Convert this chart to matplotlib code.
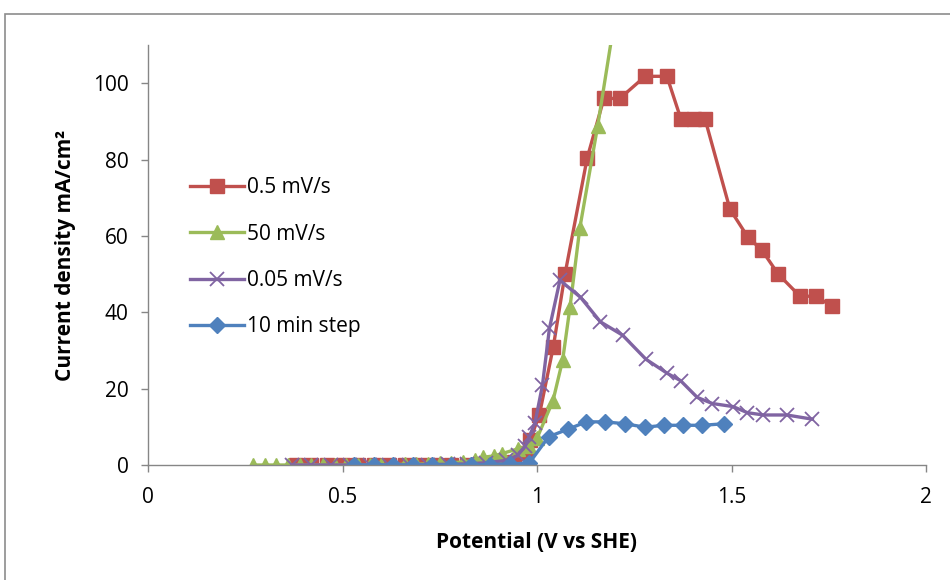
import matplotlib.pyplot as plt
from matplotlib.patches import Rectangle

plt.rcParams["font.family"] = ["Open Sans", "DejaVu Sans"]

# 0.5 mV/s sweep
v_slow = [0.38, 0.42, 0.46, 0.50, 0.54, 0.58, 0.62, 0.66, 0.70, 0.74, 0.78, 0.82,
          0.86, 0.90, 0.94, 0.973, 0.982, 1.006, 1.042, 1.072, 1.129, 1.172, 1.213,
          1.278, 1.334, 1.370, 1.404, 1.432, 1.496, 1.542, 1.578, 1.620, 1.676,
          1.717, 1.758]
i_slow = [0.0, 0.0, 0.0, 0.0, 0.0, 0.0, 0.0, 0.0, 0.0, 0.0, 0.0, 0.1,
          0.2, 0.4, 0.8, 3.1, 6.5, 13.1, 31.0, 50.0, 80.4, 96.0, 96.0,
          101.8, 101.8, 90.6, 90.6, 90.6, 67.0, 59.7, 56.3, 50.0, 44.2,
          44.2, 41.6]

# 50 mV/s sweep
v_fast = [0.27, 0.30, 0.33, 0.36, 0.39, 0.42, 0.45, 0.48, 0.51, 0.54, 0.57, 0.60,
          0.63, 0.66, 0.69, 0.72, 0.75, 0.78, 0.81, 0.84, 0.86, 0.89, 0.91, 0.95,
          0.98, 1.00, 1.041, 1.066, 1.085, 1.110, 1.156, 1.200]
i_fast = [0.0, 0.0, 0.0, 0.0, 0.0, 0.0, 0.0, 0.0, 0.0, 0.0, 0.0, 0.1,
          0.1, 0.2, 0.2, 0.3, 0.4, 0.6, 0.8, 1.2, 2.0, 2.4, 3.0, 4.2,
          5.0, 7.0, 16.8, 27.5, 41.5, 62.0, 88.8, 117.0]

# 0.05 mV/s sweep
v_slowest = [0.37, 0.42, 0.47, 0.52, 0.57, 0.62, 0.67, 0.72, 0.77, 0.82, 0.87,
             0.92, 0.95, 0.97, 0.98, 0.995, 1.014, 1.032, 1.059, 1.112, 1.163,
             1.220, 1.280, 1.335, 1.369, 1.412, 1.451, 1.504, 1.541, 1.582,
             1.642, 1.708]
i_slowest = [0.0, 0.0, 0.0, 0.0, 0.0, 0.0, 0.0, 0.1, 0.2, 0.3, 0.6,
             1.2, 2.5, 5.0, 7.4, 11.1, 20.9, 35.8, 48.4, 43.9, 37.5,
             34.0, 27.7, 24.0, 22.1, 17.7, 16.1, 15.3, 13.7, 13.1,
             13.1, 12.0]

# 10 min potential steps
v_step = [0.53, 0.58, 0.63, 0.68, 0.73, 0.78, 0.83, 0.88, 0.93, 0.98, 1.03,
          1.08, 1.127, 1.175, 1.226, 1.278, 1.326, 1.376, 1.425, 1.481]
i_step = [0.0, 0.0, 0.0, 0.0, 0.0, 0.0, 0.0, 0.1, 0.3, 0.5, 7.4,
          9.4, 11.3, 11.3, 10.8, 9.9, 10.4, 10.4, 10.4, 10.8]

x_ticks = [0, 0.5, 1, 1.5, 2]
x_tick_labels = ["0", "0.5", "1", "1.5", "2"]
y_ticks = [0, 20, 40, 60, 80, 100]

fig = plt.figure(figsize=(9.5, 5.8), dpi=100)
fig.patches.append(Rectangle((5 / 950, -0.02), 1.05, 0.02 + 1 - 14 / 580,
                             transform=fig.transFigure, fill=False,
                             edgecolor="#8c8c8c", linewidth=1.2))
ax = fig.add_axes([148 / 950, 1 - 465 / 580, 778 / 950, 420 / 580])

ax.plot(v_slow, i_slow, color="#C0504D", lw=2.4, marker="s", ms=10,
        label="0.5 mV/s")
ax.plot(v_fast, i_fast, color="#9BBB59", lw=2.4, marker="^", ms=10,
        label="50 mV/s")
ax.plot(v_slowest, i_slowest, color="#8064A2", lw=2.4, marker="x", ms=9.5,
        mew=1.3, label="0.05 mV/s")
ax.plot(v_step, i_step, color="#4F81BD", lw=2.4, marker="D", ms=8.5,
        label="10 min step")

ax.set_xlim(0, 2)
ax.set_ylim(0, 110)
ax.set_xticks(x_ticks)
ax.set_xticklabels(x_tick_labels)
ax.set_yticks(y_ticks)
ax.tick_params(labelsize=15, color="#868686", length=5, width=1)
ax.tick_params(axis="y", pad=9)
ax.tick_params(axis="x", pad=11)
for side in ("top", "right"):
    ax.spines[side].set_visible(False)
for side in ("left", "bottom"):
    ax.spines[side].set_color("#868686")
    ax.spines[side].set_linewidth(1)

ax.set_xlabel("Potential (V vs SHE)", fontsize=15, fontweight="bold", labelpad=17)
ax.set_ylabel("Current density mA/cm²", fontsize=15, fontweight="bold", labelpad=12)

ax.legend(loc="upper left", bbox_to_anchor=(0.043, 0.705), frameon=False,
          fontsize=15, handlelength=2.6, handletextpad=0.15, labelspacing=1.22,
          borderaxespad=0)

fig.savefig("out.png", dpi=100)
